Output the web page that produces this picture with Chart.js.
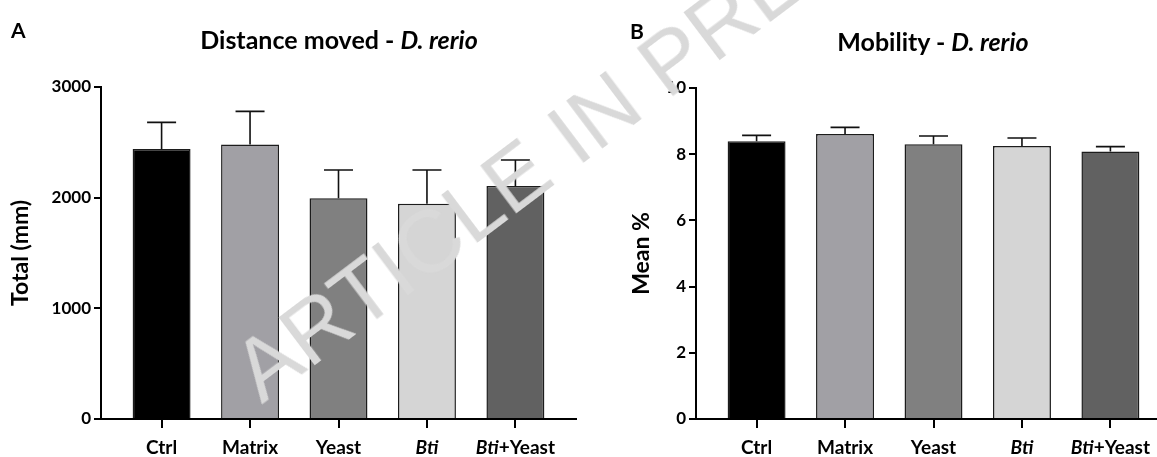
<!DOCTYPE html>
<html>
<head>
<meta charset="utf-8">
<script src="https://cdn.jsdelivr.net/npm/chart.js@4.4.0/dist/chart.umd.min.js"></script>
<style>
  html, body { margin: 0; padding: 0; background: #fff; overflow: hidden; }
  body { width: 1157px; height: 457px; position: relative; font-family: Lato, sans-serif; color: #000; }
  .panel { position: absolute; top: 0; width: 600px; height: 457px; }
  .letter { position: absolute; font-weight: bold; font-size: 21px; line-height: 1; }
  .title { position: absolute; font-weight: bold; font-size: 25px; line-height: 1; white-space: nowrap; transform: translateX(-50%); }
  .mark { position: absolute; left: 262px; top: 331px; font-family: "Liberation Sans", Arial, sans-serif;
          font-size: 88px; line-height: 1; color: #d9d9d9; white-space: nowrap;
          transform-origin: 0 74px; transform: rotate(-37deg); pointer-events: none; z-index: 10; }
</style>
</head>
<body>
<div class="panel" style="left:0"><canvas id="chartA"></canvas></div>
<div class="panel" style="left:600px"><canvas id="chartB"></canvas></div>

<div class="letter" style="left:11px; top:19px">A</div>
<div class="letter" style="left:630px; top:20px">B</div>
<div class="title" style="left:339px; top:27px">Distance moved - <i>D. rerio</i></div>
<div class="title" style="left:933px; top:29px">Mobility - <i>D. rerio</i></div>
<div class="mark">ARTICLE IN PRESS</div>

<script>
// groups on the x axis (italicPrefix = part of the label set in italics)
const groups = ['Ctrl', 'Matrix', 'Yeast', 'Bti', 'Bti+Yeast'];
const italicPrefix = ['', '', '', 'Bti', 'Bti'];
const barColors = ['#000000', '#a1a0a5', '#808080', '#d5d5d5', '#616161'];

// A: distance moved (mm), mean and SEM
const distanceMean = [2440, 2480, 1995, 1945, 2105];
const distanceSem = [240, 300, 255, 305, 235];
const distanceTicks = [0, 1000, 2000, 3000];

// B: mobility (%), mean and SEM
const mobilityMean = [8.39, 8.61, 8.30, 8.25, 8.08];
const mobilitySem = [0.18, 0.20, 0.25, 0.24, 0.15];
const mobilityTicks = [0, 2, 4, 6, 8, 10];

Chart.defaults.font.family = 'Lato';
Chart.defaults.font.weight = 'bold';
Chart.defaults.color = '#000';

const extras = {
  id: 'extras',
  afterDatasetsDraw(chart, args, opts) {
    const { ctx, scales: { x, y } } = chart;
    ctx.save();
    ctx.strokeStyle = '#111';
    ctx.lineWidth = 1.6;
    opts.mean.forEach((m, i) => {
      const px = x.getPixelForValue(i);
      const y0 = y.getPixelForValue(m);
      const y1 = y.getPixelForValue(m + opts.sem[i]);
      ctx.beginPath();
      ctx.moveTo(px, y0); ctx.lineTo(px, y1);
      ctx.moveTo(px - 14.5, y1); ctx.lineTo(px + 14.5, y1);
      ctx.stroke();
    });
    ctx.restore();
  },
  afterDraw(chart) {
    const { ctx, scales: { x } } = chart;
    const fi = 'italic bold 19px Lato', fn = 'bold 19px Lato';
    ctx.save();
    ctx.fillStyle = '#000';
    ctx.textAlign = 'left';
    ctx.textBaseline = 'alphabetic';
    groups.forEach((g, i) => {
      const it = italicPrefix[i];
      const rest = g.slice(it.length);
      ctx.font = fi;
      const wi = it ? ctx.measureText(it).width : 0;
      ctx.font = fn;
      const wr = ctx.measureText(rest).width;
      const sx = x.getPixelForValue(i) - (wi + wr) / 2;
      if (it) { ctx.font = fi; ctx.fillText(it, sx, 454); }
      ctx.font = fn;
      ctx.fillText(rest, sx + wi, 454);
    });
    ctx.restore();
  }
};

function makeChart(id, mean, sem, ticks, yTitle, pad, yWidth, titlePad) {
  const canvas = document.getElementById(id);
  canvas.width = 600; canvas.height = 457;
  return new Chart(canvas, {
    type: 'bar',
    data: {
      datasets: [{
        data: mean.map((v, i) => ({ x: i, y: v })),
        backgroundColor: barColors,
        borderColor: '#1c1c1c',
        borderWidth: 1.5,
        barPercentage: 1,
        categoryPercentage: 0.655
      }]
    },
    options: {
      responsive: false,
      animation: false,
      layout: { padding: pad },
      plugins: { legend: { display: false }, tooltip: { enabled: false }, extras: { mean, sem } },
      scales: {
        x: {
          type: 'linear',
          offset: false,
          min: -0.685,
          max: groups.length - 1 + 0.685,
          afterBuildTicks: s => { s.ticks = groups.map((g, i) => ({ value: i })); },
          afterFit: s => { s.height = 38; },
          ticks: { display: false },
          grid: { offset: false, drawOnChartArea: false, drawTicks: true, tickLength: 9, color: '#000', lineWidth: 2 },
          border: { display: true, color: '#000', width: 2 }
        },
        y: {
          min: ticks[0],
          max: ticks[ticks.length - 1],
          afterBuildTicks: s => { s.ticks = ticks.map(v => ({ value: v })); },
          afterFit: s => { s.width = yWidth; },
          ticks: { font: { size: 17, weight: 'bold' }, padding: 3, color: '#000', callback: v => String(v) },
          grid: { drawOnChartArea: false, drawTicks: true, tickLength: 7, color: '#000', lineWidth: 2 },
          border: { display: true, color: '#000', width: 2 },
          title: { display: true, text: yTitle, font: { size: 23, weight: 'bold' }, padding: { top: titlePad, bottom: 0 }, color: '#000' }
        }
      }
    },
    plugins: [extras]
  });
}

makeChart('chartA', distanceMean, distanceSem, distanceTicks, 'Total (mm)',
  { left: 0, top: 87, right: 24, bottom: 0 }, 101, 7);
makeChart('chartB', mobilityMean, mobilitySem, mobilityTicks, 'Mean %',
  { left: 20, top: 88, right: 29, bottom: 0 }, 76, 8);
</script>
</body>
</html>
